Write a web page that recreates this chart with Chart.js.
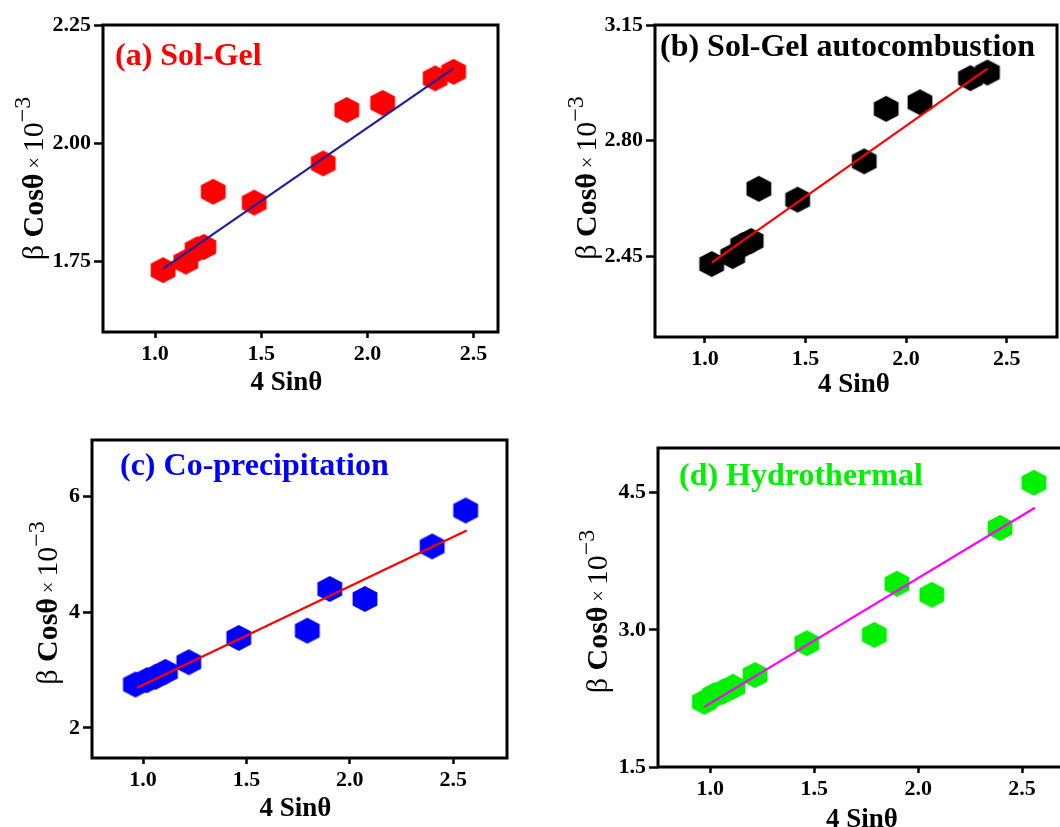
<!DOCTYPE html>
<html>
<head>
<meta charset="utf-8">
<script src="https://cdn.jsdelivr.net/npm/chart.js@4.4.0/dist/chart.umd.min.js"></script>
<style>
html,body{margin:0;padding:0;background:#fff;overflow:hidden;width:1060px;height:827px;position:relative;}
canvas{position:absolute;display:block;}
</style>
</head>
<body>
<canvas id="ca"></canvas>
<canvas id="cb"></canvas>
<canvas id="cc"></canvas>
<canvas id="cd"></canvas>
<script>
// ---------------- data ----------------
const xTicks = [1.0, 1.5, 2.0, 2.5];
const xTickLabels = ['1.0', '1.5', '2.0', '2.5'];
const xTitle = '4 Sinθ';

// (a) Sol-Gel
const solGelX = [1.038, 1.145, 1.198, 1.230, 1.274, 1.467, 1.792, 1.903, 2.072, 2.319, 2.406];
const solGelY = [1.731, 1.749, 1.775, 1.780, 1.897, 1.874, 1.957, 2.070, 2.085, 2.137, 2.151];
const solGelFitX = [1.038, 2.406];
const solGelFitY = [1.734, 2.158];
const solGelYTicks = [1.75, 2.00, 2.25];
const solGelYTickLabels = ['1.75', '2.00', '2.25'];

// (b) Sol-Gel autocombustion
const autoX = [1.034, 1.138, 1.188, 1.230, 1.268, 1.461, 1.792, 1.901, 2.069, 2.320, 2.404];
const autoY = [2.426, 2.450, 2.483, 2.496, 2.654, 2.621, 2.737, 2.896, 2.916, 2.989, 3.006];
const autoFitX = [1.034, 2.404];
const autoFitY = [2.430, 3.018];
const autoYTicks = [2.45, 2.80, 3.15];
const autoYTickLabels = ['2.45', '2.80', '3.15'];

// (c) Co-precipitation
const coprecX = [0.963, 1.019, 1.060, 1.108, 1.221, 1.463, 1.794, 1.903, 2.073, 2.398, 2.560];
const coprecY = [2.751, 2.826, 2.883, 2.970, 3.137, 3.557, 3.683, 4.403, 4.230, 5.140, 5.761];
const coprecFitX = [0.971, 2.565];
const coprecFitY = [2.693, 5.416];
const coprecYTicks = [2, 4, 6];
const coprecYTickLabels = ['2', '4', '6'];

// (d) Hydrothermal
const hydroX = [0.971, 1.020, 1.060, 1.109, 1.215, 1.464, 1.789, 1.898, 2.066, 2.394, 2.557];
const hydroY = [2.213, 2.287, 2.323, 2.378, 2.506, 2.854, 2.945, 3.505, 3.384, 4.116, 4.610];
const hydroFitX = [0.971, 2.562];
const hydroFitY = [2.158, 4.336];
const hydroYTicks = [1.5, 3.0, 4.5];
const hydroYTickLabels = ['1.5', '3.0', '4.5'];

// ---------------- layout / style ----------------
const SERIF = '"Liberation Serif", "Times New Roman", "DejaVu Serif", serif';
const PADL = 10, YW = 95, PADT = 20, XH = 75, PADR = 15, PADB = 5;

const panels = [
  {id:'ca', area:{l:103,t:25,r:498,b:332}, xr:[0.755,2.615], yr:[1.60,2.25],
   xs:solGelX, ys:solGelY, fx:solGelFitX, fy:solGelFitY, yt:solGelYTicks, ytl:solGelYTickLabels,
   pc:'#ff0000', lc:'#1f1fa0', label:'(a) Sol-Gel', labelColor:'#ff0000', lx:12, ly:40,
   ytx:60, yty:0, xtx:-14, xty:58},
  {id:'cb', area:{l:655,t:25,r:1057,b:337}, xr:[0.752,2.75], yr:[2.205,3.15],
   xs:autoX, ys:autoY, fx:autoFitX, fy:autoFitY, yt:autoYTicks, ytl:autoYTickLabels,
   pc:'#000000', lc:'#ff0000', label:'(b) Sol-Gel autocombustion', labelColor:'#000000', lx:5, ly:31,
   ytx:59, yty:-3, xtx:-2, xty:55},
  {id:'cc', area:{l:92,t:440,r:507,b:758}, xr:[0.753,2.76], yr:[1.48,6.98],
   xs:coprecX, ys:coprecY, fx:coprecFitX, fy:coprecFitY, yt:coprecYTicks, ytl:coprecYTickLabels,
   pc:'#0000ff', lc:'#ff0000', label:'(c) Co-precipitation', labelColor:'#0000ff', lx:28, ly:35,
   ytx:35, yty:4, xtx:-4, xty:58},
  {id:'cd', area:{l:658,t:448,r:1074,b:767}, xr:[0.748,2.75], yr:[1.5,4.99],
   xs:hydroX, ys:hydroY, fx:hydroFitX, fy:hydroFitY, yt:hydroYTicks, ytl:hydroYTickLabels,
   pc:'#00f000', lc:'#ff00ff', label:'(d) Hydrothermal', labelColor:'#00f000', lx:21, ly:37,
   ytx:51, yty:4, xtx:-4, xty:60}
];

function hexImage(color){
  const rx = 12.4, ry = 13.0, s = 28;
  const c = document.createElement('canvas');
  c.width = s; c.height = s;
  const g = c.getContext('2d');
  g.fillStyle = color;
  g.beginPath();
  const cx = s/2, cy = s/2;
  g.moveTo(cx, cy - ry);
  g.lineTo(cx + rx, cy - ry/2);
  g.lineTo(cx + rx, cy + ry/2);
  g.lineTo(cx, cy + ry);
  g.lineTo(cx - rx, cy + ry/2);
  g.lineTo(cx - rx, cy - ry/2);
  g.closePath();
  g.fill();
  return c;
}

function makePanel(p){
  const cv = document.getElementById(p.id);
  const left = p.area.l - PADL - YW, top = p.area.t - PADT;
  const w = (p.area.r - p.area.l) + PADL + YW + PADR;
  const h = (p.area.b - p.area.t) + PADT + XH + PADB;
  cv.style.left = left + 'px'; cv.style.top = top + 'px';
  cv.width = w; cv.height = h;
  cv.style.width = w + 'px'; cv.style.height = h + 'px';

  const pts = p.xs.map((x, i) => ({x: x, y: p.ys[i]}));
  const fit = p.fx.map((x, i) => ({x: x, y: p.fy[i]}));
  const tickFont = {family: SERIF, weight: 'bold', size: 22};

  const decor = {
    id: 'decor_' + p.id,
    beforeDatasetsDraw(chart){
      const a = chart.chartArea, ctx = chart.ctx;
      ctx.save();
      ctx.strokeStyle = '#000'; ctx.lineWidth = 3;
      ctx.strokeRect(a.left, a.top, a.right - a.left, a.bottom - a.top);
      ctx.restore();
    },
    afterDraw(chart){
      const a = chart.chartArea, ctx = chart.ctx;
      ctx.save();
      // panel label
      ctx.fillStyle = p.labelColor;
      ctx.font = 'bold 32px ' + SERIF;
      ctx.textBaseline = 'alphabetic'; ctx.textAlign = 'left';
      ctx.fillText(p.label, a.left + p.lx, a.top + p.ly);
      // x title
      ctx.fillStyle = '#000';
      ctx.font = 'bold 27px ' + SERIF;
      ctx.textAlign = 'center';
      ctx.fillText(xTitle, (a.left + a.right)/2 + p.xtx, a.bottom + p.xty);
      // y title (rotated, mixed fonts)
      const segs = [
        {t:'β ', f:'30px ' + SERIF, dy:0},
        {t:'Cosθ', f:'bold 30px ' + SERIF, dy:0},
        {t:' × ', f:'20px ' + SERIF, dy:-2},
        {t:'10', f:'30px ' + SERIF, dy:0},
        {t:'−3', f:'24px ' + SERIF, dy:-13}
      ];
      ctx.textAlign = 'left';
      let total = 0;
      segs.forEach(s => { ctx.font = s.f; s.w = ctx.measureText(s.t).width; total += s.w; });
      ctx.translate(a.left - p.ytx, (a.top + a.bottom)/2 + p.yty);
      ctx.rotate(-Math.PI/2);
      let x = -total/2;
      segs.forEach(s => { ctx.font = s.f; ctx.fillText(s.t, x, s.dy); x += s.w; });
      ctx.restore();
    }
  };

  return new Chart(cv.getContext('2d'), {
    type: 'scatter',
    data: {
      datasets: [
        {type:'line', data: fit, borderColor: p.lc, borderWidth: 2.2, pointRadius: 0,
         fill: false, tension: 0, order: 0},
        {type:'scatter', data: pts, pointStyle: hexImage(p.pc), pointRadius: 13,
         backgroundColor: p.pc, borderColor: p.pc, order: 1}
      ]
    },
    options: {
      responsive: false, animation: false, devicePixelRatio: 1,
      layout: {padding: {left: PADL, top: PADT, right: PADR, bottom: PADB}},
      plugins: {legend: {display: false}, tooltip: {enabled: false}, title: {display: false}},
      scales: {
        x: {
          type: 'linear', position: 'bottom', min: p.xr[0], max: p.xr[1],
          afterBuildTicks: s => { s.ticks = xTicks.map(v => ({value: v})); },
          afterFit: s => { s.height = XH; },
          ticks: {callback: (v, i) => xTickLabels[i], color: '#000', font: tickFont,
                  padding: 3, autoSkip: false, maxRotation: 0},
          grid: {display: true, drawOnChartArea: false, drawTicks: true, tickLength: 6,
                 tickWidth: 2.5, tickColor: '#000'},
          border: {display: false},
          title: {display: false}
        },
        y: {
          type: 'linear', position: 'left', min: p.yr[0], max: p.yr[1],
          afterBuildTicks: s => { s.ticks = p.yt.map(v => ({value: v})); },
          afterFit: s => { s.width = YW; },
          ticks: {callback: (v, i) => p.ytl[i], color: '#000', font: tickFont,
                  padding: 3, autoSkip: false},
          grid: {display: true, drawOnChartArea: false, drawTicks: true, tickLength: 9,
                 tickWidth: 2.5, tickColor: '#000'},
          border: {display: false},
          title: {display: false}
        }
      }
    },
    plugins: [decor]
  });
}

panels.forEach(makePanel);
</script>
</body>
</html>
